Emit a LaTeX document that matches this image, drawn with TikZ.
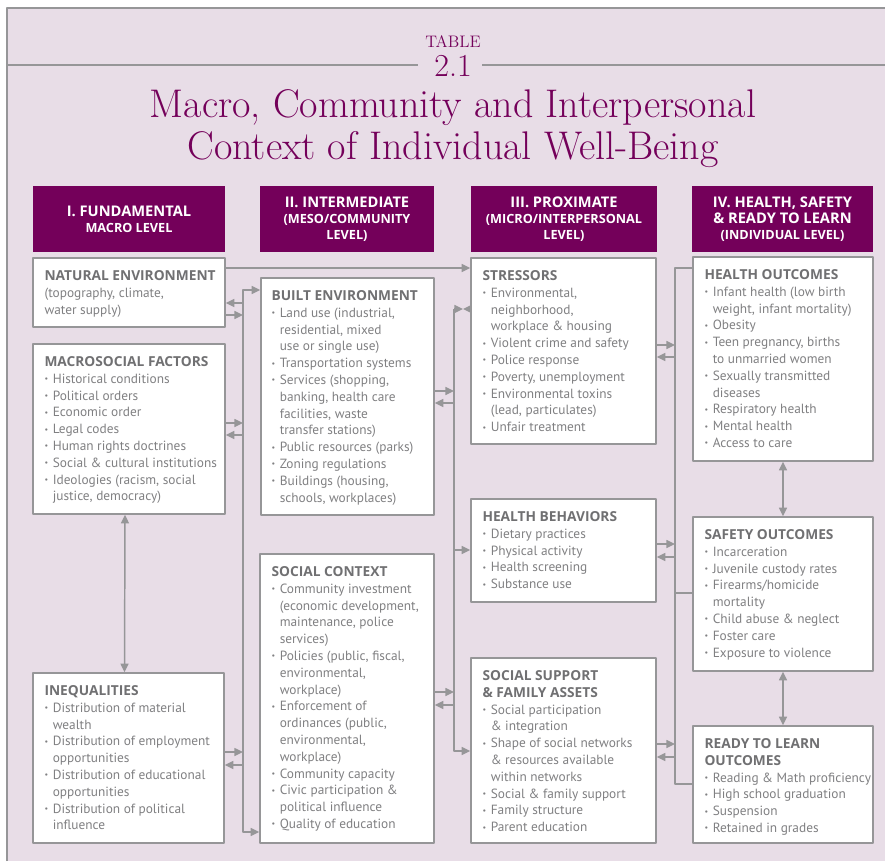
\documentclass[tikz,border=0pt]{standalone}
\usepackage{fontspec}
\setsansfont{PT Sans}
\newfontfamily\headsans{Open Sans}
\usetikzlibrary{arrows.meta,fit}
\definecolor{plum}{RGB}{116,0,90}
\definecolor{lilac}{RGB}{232,221,231}
\definecolor{rulegray}{RGB}{150,150,152}
\definecolor{textgray}{RGB}{128,128,130}
\definecolor{headgray}{RGB}{112,112,114}
\newcommand\hd[1]{{\headsans\bfseries\fontsize{10.3}{12.6}\selectfont\color{headgray}#1}}
\newcommand\bl{\makebox[0.62em][l]{\raisebox{0.12em}{\scalebox{0.6}{\textbullet}}}}
\newcommand\ct{\hspace*{0.62em}}
\newcommand\hbig{\fontsize{11}{12}\selectfont}
\newcommand\hsmall{\fontsize{9.5}{12}\selectfont}

\begin{document}
\begin{tikzpicture}[x=0.75pt,y=-0.75pt,>={Triangle[length=6.5pt,width=6pt]},line join=round,
	box/.style={draw=rulegray,fill=white,line width=1.1pt,inner sep=0pt},
	head/.style={fill=plum,inner sep=0pt},
	htxt/.style={align=center,text=white,font=\headsans\bfseries},
	txt/.style={anchor=north west,align=left,inner sep=0pt,text=textgray,font=\sffamily\fontsize{10}{12.6}\selectfont},
	link/.style={draw=rulegray,line width=1.1pt}]
	\useasboundingbox (0,0) rectangle (885,861);
	% panel and title
	\fill[lilac] (7,8) rectangle (885,861);
	\draw[rulegray,line width=0.8pt] (7,861)--(7,8)--(885,8);
	\draw[rulegray,line width=0.8pt] (7,65)--(418,65) (482,65)--(885,65);
	\node[text=plum,font=\fontsize{12.5}{14}\selectfont] (tab) at (453,42) {TABLE};
	\node[text=plum,font=\fontsize{24}{26}\selectfont] (num) at (453,66) {2.1};
	\node[text=plum,font=\fontsize{30}{32}\selectfont] (ttla) at (453,108) {Macro, Community and Interpersonal};
	\node[text=plum,font=\fontsize{30}{32}\selectfont] (ttlb) at (453,150) {Context of Individual Well-Being};
	% column heads
	\node[head,fit={(33,186)(225,252)}] (hfund) {};
	\node[htxt] at (hfund) {\hbig I. FUNDAMENTAL\\\hsmall MACRO LEVEL};
	\node[head,fit={(260,186)(434,252)}] (hinter) {};
	\node[htxt] at (hinter) {\hbig II. INTERMEDIATE\\\hsmall (MESO/COMMUNITY\\\hsmall LEVEL)};
	\node[head,fit={(471,186)(657,252)}] (hprox) {};
	\node[htxt] at (hprox) {\hbig III. PROXIMATE\\\hsmall (MICRO/INTERPERSONAL\\\hsmall LEVEL)};
	\node[head,fit={(692,186)(873,252)}] (hindiv) {};
	\node[htxt] at (hindiv) {\hbig IV. HEALTH, SAFETY\\\hbig \& READY TO LEARN\\\hsmall (INDIVIDUAL LEVEL)};
	% column I
	\node[box,fit={(33,258)(225,327)}] (natenv) {};
	\node[txt] at ([shift={(12,13)}]natenv.north west) {\hd{NATURAL ENVIRONMENT}\\(topography, climate,\\water supply)};
	\node[box,fit={(33,344)(225,514)}] (macro) {};
	\node[txt] at ([shift={(12,13)}]macro.north west) {\hd{MACROSOCIAL FACTORS}\\\bl Historical conditions\\\bl Political orders\\\bl Economic order\\\bl Legal codes\\\bl Human rights doctrines\\\bl Social \& cultural institutions\\\bl Ideologies (racism, social\\\ct justice, democracy)};
	\node[box,fit={(33,673)(224,843)}] (ineq) {};
	\node[txt] at ([shift={(12,13)}]ineq.north west) {\hd{INEQUALITIES}\\\bl Distribution of material\\\ct wealth\\\bl Distribution of employment\\\ct opportunities\\\bl Distribution of educational\\\ct opportunities\\\bl Distribution of political\\\ct influence};
	% column II
	\node[box,fit={(261,278)(434,515)}] (built) {};
	\node[txt] at ([shift={(11,13)}]built.north west) {\hd{BUILT ENVIRONMENT}\\\bl Land use (industrial,\\\ct residential, mixed\\\ct use or single use)\\\bl Transportation systems\\\bl Services (shopping,\\\ct banking, health care\\\ct facilities, waste\\\ct transfer stations)\\\bl Public resources (parks)\\\bl Zoning regulations\\\bl Buildings (housing,\\\ct schools, workplaces)};
	\node[box,fit={(260,554)(434,843)}] (social) {};
	\node[txt] at ([shift={(12,13)}]social.north west) {\hd{SOCIAL CONTEXT}\\\bl Community investment\\\ct (economic development,\\\ct maintenance, police\\\ct services)\\\bl Policies (public, fiscal,\\\ct environmental,\\\ct workplace)\\\bl Enforcement of\\\ct ordinances (public,\\\ct environmental,\\\ct workplace)\\\bl Community capacity\\\bl Civic participation \&\\\ct political influence\\\bl Quality of education};
	% column III
	\node[box,fit={(471,258)(656,444)}] (stress) {};
	\node[txt] at ([shift={(12,13)}]stress.north west) {\hd{STRESSORS}\\\bl Environmental,\\\ct neighborhood,\\\ct workplace \& housing\\\bl Violent crime and safety\\\bl Police response\\\bl Poverty, unemployment\\\bl Environmental toxins\\\ct (lead, particulates)\\\bl Unfair treatment};
	\node[box,fit={(471,499)(656,602)}] (behav) {};
	\node[txt] at ([shift={(12,13)}]behav.north west) {\hd{HEALTH BEHAVIORS}\\\bl Dietary practices\\\bl Physical activity\\\bl Health screening\\\bl Substance use};
	\node[box,fit={(471,658)(656,843)}] (support) {};
	\node[txt] at ([shift={(12,13)}]support.north west) {\hd{SOCIAL SUPPORT}\\\hd{\& FAMILY ASSETS}\\\bl Social participation\\\ct \& integration\\\bl Shape of social networks\\\ct \& resources available\\\ct within networks\\\bl Social \& family support\\\bl Family structure\\\bl Parent education};
	% column IV
	\node[box,fit={(693,257)(873,461)}] (health) {};
	\node[txt] at ([shift={(12,13)}]health.north west) {\hd{HEALTH OUTCOMES}\\\bl Infant health (low birth\\\ct weight, infant mortality)\\\bl Obesity\\\bl Teen pregnancy, births\\\ct to unmarried women\\\bl Sexually transmitted\\\ct diseases\\\bl Respiratory health\\\bl Mental health\\\bl Access to care};
	\node[box,fit={(693,517)(873,671)}] (safety) {};
	\node[txt] at ([shift={(12,13)}]safety.north west) {\hd{SAFETY OUTCOMES}\\\bl Incarceration\\\bl Juvenile custody rates\\\bl Firearms/homicide\\\ct mortality\\\bl Child abuse \& neglect\\\bl Foster care\\\bl Exposure to violence};
	\node[box,fit={(693,726)(873,843)}] (ready) {};
	\node[txt] at ([shift={(12,13)}]ready.north west) {\hd{READY TO LEARN}\\\hd{OUTCOMES}\\\bl Reading \& Math proficiency\\\bl High school graduation\\\bl Suspension\\\bl Retained in grades};
	% connectors I -> II
	\draw[link,->] (natenv.east |- 0,268) -- (stress.west |- 0,268);
	\draw[link,<->] (built.west |- 0,290) -- (243,290) -- (243,832) -- (social.west |- 0,832);
	\draw[link,<-] (natenv.east |- 0,303) -- (243,303);
	\draw[link,->] (natenv.east |- 0,315) -- (243,315);
	\draw[link,->] (macro.east |- 0,423) -- (243,423);
	\draw[link,<-] (macro.east |- 0,435) -- (243,435);
	\draw[link,->] (ineq.east |- 0,752) -- (243,752);
	\draw[link,<-] (ineq.east |- 0,765) -- (243,765);
	\draw[link,<->] ([xshift=-3]macro.south) -- ([xshift=-3]ineq.north);
	% connectors II -> III
	\draw[link,->] (454,309) -- (454,751) -- (support.west |- 0,751);
	\draw[link,->] (454,309) -- (463,309);
	\draw[link,->] (stress.west |- 0,309) -- (463,309);
	\draw[link,->] (454,550) -- (behav.west |- 0,550);
	\draw[link,->] (built.east |- 0,391) -- (454,391);
	\draw[link,<-] (built.east |- 0,403) -- (454,403);
	\draw[link,->] (social.east |- 0,692) -- (454,692);
	\draw[link,<-] (social.east |- 0,705) -- (454,705);
	% connectors III -> IV
	\draw[link] (health.west |- 0,268) -- (675,268) -- (675,784) -- (ready.west |- 0,784);
	\draw[link] (675,593) -- (safety.west |- 0,593);
	\draw[link,->] (stress.east |- 0,345) -- (675,345);
	\draw[link,<-] (stress.east |- 0,357) -- (675,357);
	\draw[link,->] (behav.east |- 0,544) -- (675,544);
	\draw[link,<-] (behav.east |- 0,557) -- (675,557);
	\draw[link,->] (support.east |- 0,744) -- (675,744);
	\draw[link,<-] (support.east |- 0,757) -- (675,757);
	\draw[link,<->] (health.south) -- (safety.north);
	\draw[link,<->] (safety.south) -- (ready.north);
\end{tikzpicture}
\end{document}
